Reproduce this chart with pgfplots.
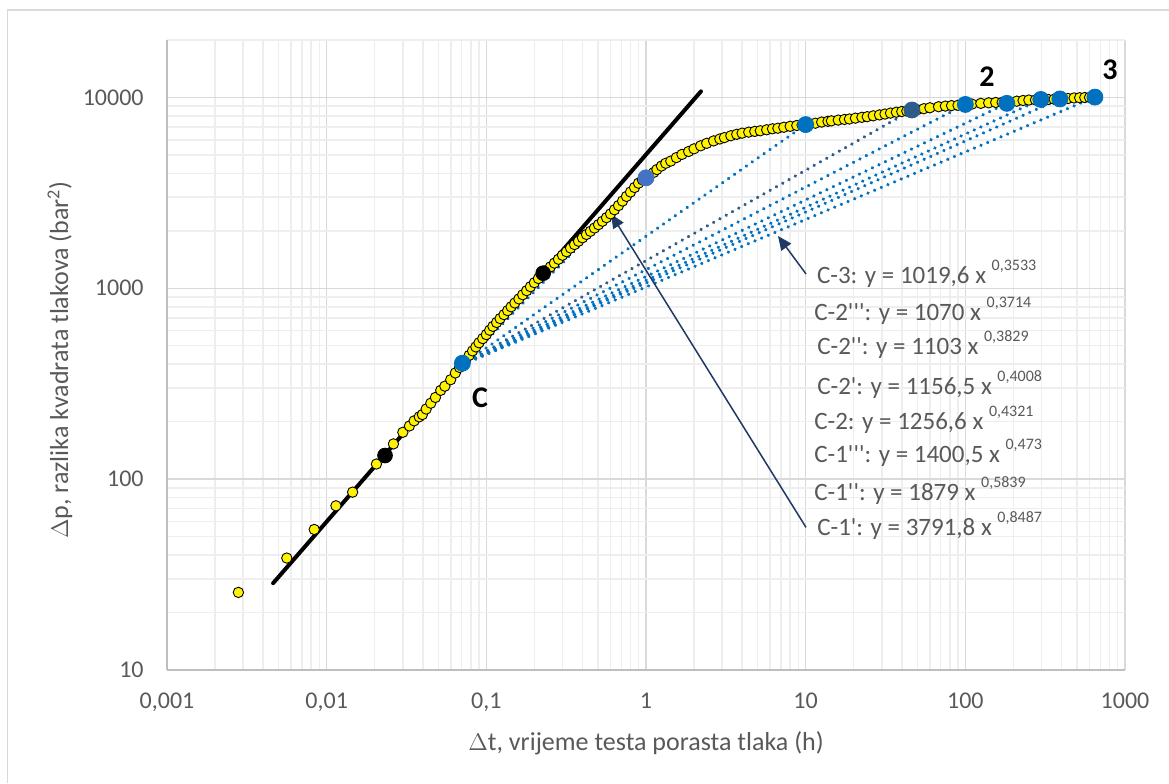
\documentclass[border=0pt]{standalone}
\usepackage{fontspec}
\setmainfont{Carlito}
\usepackage{pgfplots}
\usepackage{pgfplotstable}
\pgfplotsset{compat=1.18}
\usetikzlibrary{arrows.meta}
\definecolor{txt}{HTML}{595959}
\definecolor{gmaj}{HTML}{D9D9D9}
\definecolor{gmin}{HTML}{EEEEEE}
\definecolor{axl}{HTML}{BFBFBF}
\definecolor{fitblue}{HTML}{0070C0}
\definecolor{fitdark}{HTML}{2E5C8A}
\definecolor{dotlight}{HTML}{4472C4}
\definecolor{navy}{HTML}{1F3864}
\newcommand{\pr}{\textquotesingle}
\newcommand{\ex}[1]{\raisebox{0.52em}{\fontsize{8}{8}\selectfont #1}}

\pgfplotstableread{
x y
0.00280 25.5
0.00563 38.6
0.00836 54.5
0.01143 72.5
0.01454 85.5
0.0205 120
0.0262 153
0.0300 176
0.0330 190
0.0353 202
0.0380 212
0.0398 218
0.0420 233
0.0449 250
0.0480 268
0.0518 292
0.0550 307
0.0598 332
0.0640 360
0.0680 385
0.0740 420
0.0780 445
0.0820 470
0.0860 493
0.0900 518
0.0950 545
0.1000 572
0.1050 603
0.1100 632
0.1160 662
0.1220 694
0.1290 728
0.1360 764
0.1430 800
0.1510 838
0.1600 880
0.1690 925
0.1790 972
0.1890 1020
0.2000 1070
0.2120 1125
0.2250 1185
0.2380 1240
0.2520 1295
0.2670 1355
0.2830 1420
0.3000 1490
0.3180 1555
0.3370 1625
0.3570 1695
0.3780 1765
0.4000 1840
0.4240 1915
0.4490 1990
0.4760 2070
0.5040 2155
0.5340 2245
0.5660 2345
0.6000 2455
0.6350 2580
0.6730 2715
0.7130 2865
0.7550 3030
0.8000 3195
0.8480 3375
0.8980 3555
0.9500 3700
1.05 3900
1.12 4050
1.17 4190
1.25 4370
1.33 4520
1.43 4640
1.55 4840
1.68 5030
1.85 5210
2.0 5380
2.2 5580
2.4 5750
2.65 5920
2.9 6060
3.1 6160
3.4 6300
3.7 6410
4.0 6500
4.4 6580
4.8 6640
5.2 6690
5.7 6770
6.2 6850
6.7 6900
7.3 6980
8.0 7060
8.8 7130
9.5 7170
10.5 7230
11.5 7330
12.6 7430
13.8 7500
14.5 7540
16 7610
17.5 7670
18.8 7710
20.5 7790
22.5 7870
24.3 7930
26.5 8010
29 8100
31.4 8185
34 8280
37 8370
40 8440
43 8490
46 8540
50 8620
55 8730
60 8830
68 8940
75 9010
82 9060
90 9100
100 9150
110 9230
125 9310
140 9370
155 9410
170 9430
190 9460
210 9560
230 9640
250 9690
275 9710
300 9720
330 9760
360 9790
400 9810
440 9870
480 9940
520 9970
560 9990
600 10000
640 10010
}\datatable

\begin{document}
\begin{tikzpicture}
\path[use as bounding box] (-83.5pt,-56.5pt) rectangle (501pt,335pt);
\draw[gmaj, line width=0.75pt] (-79.75pt,-56.5pt) -- (-79.75pt,330pt) -- (501pt,330pt);
\begin{axis}[
  at={(0,0)}, anchor=south west,
  scale only axis, width=479pt, height=315pt,
  xmode=log, ymode=log,
  xmin=0.001, xmax=1000, ymin=10, ymax=20000,
  axis lines*=left,
  axis line style={draw=axl, line width=0.75pt},
  xtick={0.001,0.01,0.1,1,10,100,1000},
  xticklabels={{0,001},{0,01},{0,1},1,10,100,1000},
  minor xtick={0.002,0.003,0.004,0.005,0.006,0.007,0.008,0.009,
    0.02,0.03,0.04,0.05,0.06,0.07,0.08,0.09,
    0.2,0.3,0.4,0.5,0.6,0.7,0.8,0.9,
    2,3,4,5,6,7,8,9,20,30,40,50,60,70,80,90,
    200,300,400,500,600,700,800,900},
  ytick={10,100,1000,10000},
  yticklabels={10,100,1000,10000},
  minor ytick={20,30,40,50,60,70,80,90,200,300,400,500,600,700,800,900,
    2000,3000,4000,5000,6000,7000,8000,9000,20000},
  grid=both,
  major grid style={draw=gmaj, line width=0.75pt},
  minor grid style={draw=gmin, line width=0.75pt},
  major tick length=0pt, minor tick length=0pt,
  tick label style={font=\fontsize{12}{14}\selectfont, text=txt},
  xticklabel style={anchor=base, yshift=-19pt},
  yticklabel style={anchor=east, inner sep=0pt, xshift=-11.5pt},
  xlabel={$\Delta$t, vrijeme testa porasta tlaka (h)},
  ylabel={$\Delta$p, razlika kvadrata tlakova (bar\textsuperscript{2})},
  xlabel style={at={(axis description cs:0.5,-0.127)}, anchor=base,
    font=\fontsize{13}{15}\selectfont, text=txt},
  ylabel style={at={(axis description cs:-0.1033,0.492)}, anchor=base,
    font=\fontsize{13}{15}\selectfont, text=txt},
  clip=false,
]
% tangent line (unit slope)
\addplot[black, line width=2pt, line cap=round] coordinates {(0.00462,28.5) (2.21,10760)};
% measured data
\addplot[only marks, mark=*, mark size=2.6pt,
  mark options={fill=yellow, draw=black, line width=0.45pt}] table {\datatable};
% power-law fits from C
\pgfplotsset{fitline/.style={line width=1.8pt, line cap=round, dash pattern=on 0.01pt off 3.6pt}}
\addplot[fitblue, fitline] coordinates {(0.0708,397) (1,3792)};
\addplot[fitblue, fitline] coordinates {(0.0708,398) (10,7208)};
\addplot[fitdark, fitline] coordinates {(0.0708,398) (46.3,8592)};
\addplot[fitblue, fitline] coordinates {(0.0708,398) (100,9190)};
\addplot[fitblue, fitline] coordinates {(0.0708,398) (182,9311)};
\addplot[fitblue, fitline] coordinates {(0.0708,398) (297,9760)};
\addplot[fitblue, fitline] coordinates {(0.0708,398) (391,9820)};
\addplot[fitblue, fitline] coordinates {(0.0708,398) (648,10041)};
% fit end points
\addplot[only marks, mark=*, mark size=4pt, fitblue] coordinates {(0.0708,405) (10,7208) (100,9190) (182,9311) (297,9760) (391,9820) (648,10041)};
\addplot[only marks, mark=*, mark size=4pt, dotlight] coordinates {(1,3792)};
\addplot[only marks, mark=*, mark size=4pt, fitdark] coordinates {(46.3,8592)};
% points on tangent
\addplot[only marks, mark=*, mark size=3.7pt, black] coordinates {(0.0232,133) (0.227,1200)};
% labels
\node[font=\fontsize{15}{15}\bfseries\selectfont] at (axis cs:0.0914,267) {C};
\node[font=\fontsize{15}{15}\bfseries\selectfont] at (axis cs:136.6,12880) {2};
\node[font=\fontsize{15}{15}\bfseries\selectfont] at (axis cs:804,14030) {3};
% equations
\begin{scope}[every node/.style={anchor=base west, inner sep=0pt, text=txt, font=\fontsize{12.5}{14}\selectfont}]
\node at (axis cs:11.72,1063) {C-3: y = 1019,6 x \ex{0,3533}};
\node at (axis cs:11.27,681) {C-2\pr\pr\pr: y = 1070 x \ex{0,3714}};
\node at (axis cs:11.76,448.6) {C-2\pr\pr: y = 1103 x \ex{0,3829}};
\node at (axis cs:11.76,277.2) {C-2\pr: y = 1156,5 x \ex{0,4008}};
\node at (axis cs:11.27,181.9) {C-2: y = 1256,6 x \ex{0,4321}};
\node at (axis cs:11.27,121.8) {C-1\pr\pr\pr: y = 1400,5 x \ex{0,473}};
\node at (axis cs:11.27,77.4) {C-1\pr\pr: y = 1879 x \ex{0,5839}};
\node at (axis cs:11.76,50.8) {C-1\pr: y = 3791,8 x \ex{0,8487}};
\end{scope}
% arrows
\draw[navy, line width=0.75pt, -{Triangle[length=7pt,width=6pt]}] (axis cs:10.05,55.9) -- (axis cs:0.604,2449);
\draw[navy, line width=0.75pt, -{Triangle[length=7pt,width=6pt]}] (axis cs:10.05,1189) -- (axis cs:6.71,1880);
\end{axis}
\end{tikzpicture}
\end{document}
